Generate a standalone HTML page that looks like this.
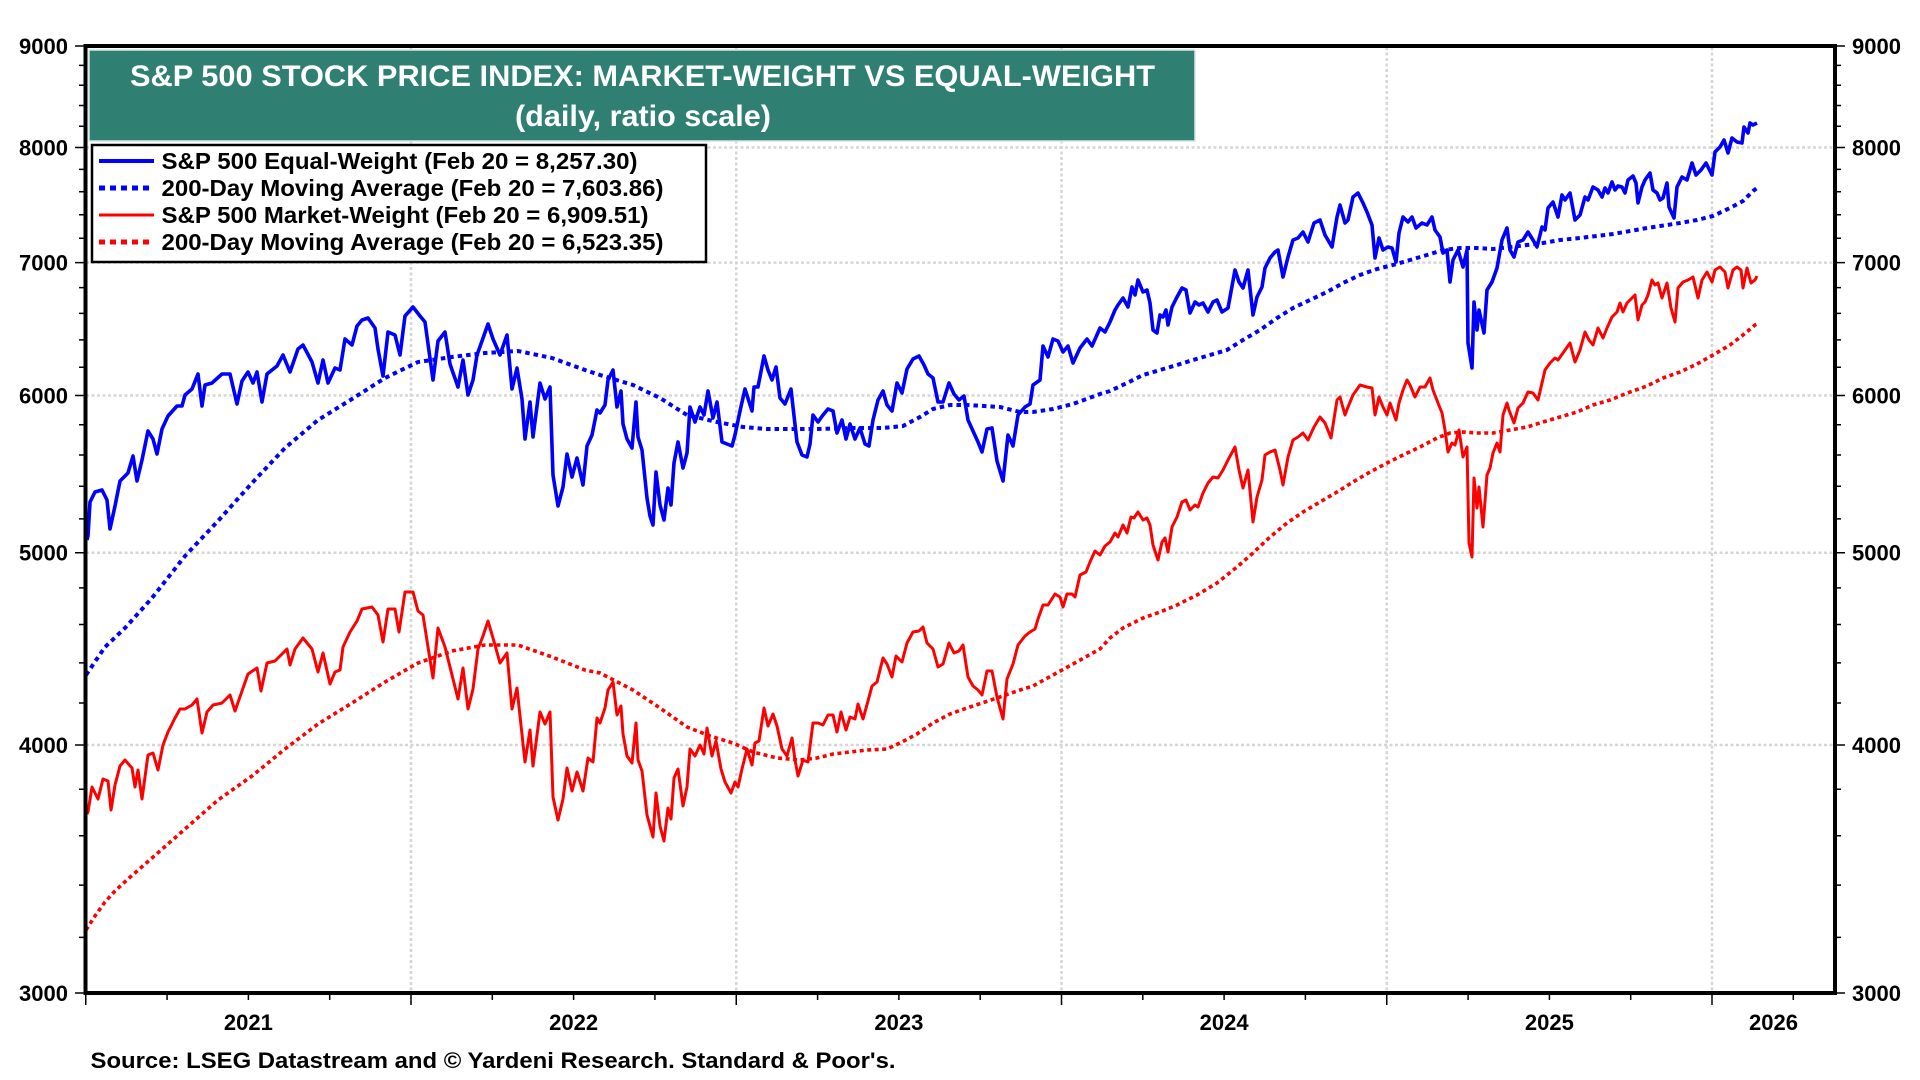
<!DOCTYPE html>
<html><head><meta charset="utf-8"><style>
html,body{margin:0;padding:0;background:#fff;}
svg{display:block;}
text{font-family:"Liberation Sans",Arial,sans-serif;font-weight:bold;}
</style></head><body>
<svg width="1920" height="1080" viewBox="0 0 1920 1080" xmlns="http://www.w3.org/2000/svg">
<rect x="0" y="0" width="1920" height="1080" fill="#fff"/>
<!-- gridlines -->
<g stroke="#d6d6d6" stroke-width="2.5" stroke-dasharray="3 2.5" fill="none">
<line x1="86" y1="147.5" x2="1834" y2="147.5"/>
<line x1="86" y1="262.6" x2="1834" y2="262.6"/>
<line x1="86" y1="395.5" x2="1834" y2="395.5"/>
<line x1="86" y1="552.7" x2="1834" y2="552.7"/>
<line x1="86" y1="745" x2="1834" y2="745"/>
<line x1="411" y1="47" x2="411" y2="992"/>
<line x1="736.25" y1="47" x2="736.25" y2="992"/>
<line x1="1061.5" y1="47" x2="1061.5" y2="992"/>
<line x1="1386.75" y1="47" x2="1386.75" y2="992"/>
<line x1="1712" y1="47" x2="1712" y2="992"/>
</g>
<!-- red MA -->
<polyline fill="none" stroke="#ff0000" stroke-width="3.6" stroke-dasharray="4 3.5" points="86,930 95,916 105,902 115,891 128,879 152,858 185,829 218,800 252,776 285,749 318,724 352,703 385,682 418,663 452,651 485,645 518,645 552,657 585,670 600,673 633,690 660,708 687,727 710,736 733,743 753,752 777,758 800,760 817,758 833,754 867,750 887,749 900,743 917,734 933,723 950,714 967,708 1000,697 1020,690 1033,686 1053,675 1073,664 1100,649 1110,638 1123,628 1143,618 1160,612 1177,605 1197,595 1217,583 1237,567 1253,553 1270,537 1287,523 1303,512 1320,502 1337,492 1353,482 1370,472 1387,463 1403,455 1420,447 1437,438 1450,433 1463,432 1477,433 1493,433 1510,430 1527,427 1543,422 1560,417 1577,412 1593,405 1610,400 1630,392 1647,386 1663,378 1680,372 1697,364 1713,355 1730,345 1743,335 1755,325 1757,324"/>
<!-- blue MA -->
<polyline fill="none" stroke="#0000ff" stroke-width="4" stroke-dasharray="4.5 4" points="86,675 105,647 125,628 152,598 185,556 218,521 252,483 285,448 318,420 352,399 385,378 418,362 452,357 485,353 518,351 552,358 585,370 600,375 633,385 660,398 687,415 717,422 743,427 767,429 800,429 817,429 850,428 883,428 903,426 920,417 933,409 950,405 967,405 1000,407 1020,412 1033,412 1053,409 1073,404 1100,394 1110,391 1127,383 1143,375 1160,370 1177,365 1193,360 1210,355 1227,350 1243,340 1260,330 1277,318 1293,308 1310,300 1327,292 1343,283 1360,275 1377,269 1393,265 1410,260 1427,255 1443,250 1460,248 1477,248 1493,249 1510,247 1527,245 1543,243 1560,240 1580,238 1613,234 1647,228 1680,223 1697,220 1713,216 1730,208 1743,201 1753,191 1757,188"/>
<!-- red solid -->
<polyline fill="none" stroke="#ff0000" stroke-width="3" stroke-linejoin="round" points="87,814 88,812 92,787 98,799 103,779 108,781 111,810 115,785 120,766 125,760 132,768 135,787 138,770 142,799 148,755 153,753 158,770 163,745 168,732 175,718 180,709 185,709 192,705 197,699 202,733 207,712 213,705 222,703 230,695 235,711 242,691 248,674 257,668 261,691 267,663 275,661 287,649 290,665 295,649 303,638 312,649 318,672 323,653 330,684 335,672 340,670 343,647 350,632 357,621 362,609 372,607 378,615 383,642 388,609 395,609 399,632 405,592 413,592 418,611 423,615 428,647 433,678 438,628 445,647 450,667 458,699 463,668 468,709 473,689 478,649 483,636 488,621 493,638 500,663 507,653 512,709 517,688 520,716 525,762 530,730 533,766 540,712 545,724 550,712 553,797 558,820 563,799 567,768 572,791 577,772 583,791 588,758 593,762 597,718 600,723 605,708 608,690 613,682 617,715 621,706 623,734 627,756 632,763 636,723 638,760 642,771 647,815 650,826 653,837 656,793 660,826 664,841 668,808 671,819 674,778 678,769 683,806 687,787 690,749 695,756 700,745 704,754 707,728 712,756 716,741 721,769 725,782 731,793 735,782 738,787 742,769 747,749 752,765 755,743 759,741 764,708 768,726 773,714 777,726 782,749 787,756 792,738 795,760 798,776 803,760 808,762 813,723 818,723 823,725 828,715 833,715 837,732 841,712 846,730 850,717 855,719 858,704 863,719 868,701 872,686 877,682 883,658 887,664 892,677 896,656 902,662 907,643 913,632 919,631 923,627 927,643 933,649 938,667 943,664 949,643 954,653 959,651 963,645 968,677 973,686 978,690 982,695 987,671 992,671 997,697 1003,719 1007,679 1013,664 1018,645 1025,636 1030,632 1035,629 1038,619 1043,605 1048,605 1055,594 1060,597 1063,607 1067,594 1072,594 1075,597 1080,575 1086,572 1090,562 1095,551 1100,555 1105,546 1110,542 1115,533 1118,537 1123,525 1127,533 1131,517 1134,518 1138,512 1143,520 1147,518 1150,525 1153,545 1158,560 1162,542 1165,538 1168,552 1172,527 1177,517 1182,502 1186,500 1190,510 1195,505 1198,507 1203,493 1208,483 1213,477 1218,478 1223,470 1228,460 1235,447 1239,470 1243,488 1248,470 1253,522 1257,497 1262,480 1265,455 1270,452 1275,450 1280,470 1283,485 1288,457 1293,440 1298,437 1303,433 1308,440 1314,427 1320,417 1325,423 1331,438 1337,400 1340,397 1345,415 1348,407 1353,395 1360,385 1367,387 1372,388 1375,415 1379,397 1383,407 1387,415 1390,403 1396,420 1399,403 1403,390 1407,380 1410,385 1415,397 1420,387 1425,387 1430,378 1433,390 1438,403 1442,413 1445,430 1448,452 1452,443 1455,445 1459,430 1463,457 1467,447 1469,543 1472,557 1474,478 1477,508 1479,487 1483,527 1487,475 1490,468 1493,453 1497,443 1500,452 1503,415 1507,403 1509,410 1514,423 1518,408 1523,403 1528,392 1533,393 1538,400 1542,383 1545,370 1550,363 1555,358 1558,360 1563,353 1570,343 1575,362 1580,350 1585,332 1589,340 1593,345 1598,328 1603,338 1607,328 1612,317 1617,312 1620,303 1623,312 1627,303 1632,298 1635,295 1638,320 1642,305 1645,302 1648,295 1652,280 1655,285 1658,283 1662,298 1667,283 1671,308 1675,322 1678,288 1683,282 1688,280 1693,277 1698,298 1702,280 1707,272 1712,282 1715,270 1720,267 1725,272 1728,288 1733,270 1737,267 1741,270 1743,288 1747,268 1751,283 1755,280 1757,276"/>
<!-- blue solid -->
<polyline fill="none" stroke="#0000ff" stroke-width="3.6" stroke-linejoin="round" points="87,540 88,536 90,502 95,492 102,490 107,500 110,529 115,506 120,481 128,473 133,456 137,481 142,460 148,431 153,439 157,454 162,429 168,416 177,406 182,406 185,395 192,389 198,374 202,406 205,385 212,383 222,374 230,374 237,404 242,381 248,372 253,383 257,372 262,402 267,374 277,366 283,355 290,372 298,349 303,345 312,362 318,383 323,360 328,383 335,368 340,370 345,339 352,345 357,326 362,320 368,318 375,328 378,349 383,376 388,332 395,335 400,355 405,316 413,307 420,316 425,322 433,380 438,341 445,332 450,364 458,387 463,360 468,395 473,380 477,355 482,341 488,324 493,339 500,355 507,335 512,389 517,368 522,399 525,439 530,402 533,437 540,383 545,399 550,387 553,475 558,506 563,487 567,454 572,477 577,458 583,485 587,446 592,435 597,410 600,413 605,405 608,380 613,370 617,407 621,391 623,424 627,439 632,448 636,402 638,437 642,450 647,498 650,516 653,525 656,472 660,505 664,520 668,488 671,505 674,463 678,442 683,468 687,453 690,407 695,422 700,407 704,415 708,391 713,418 717,402 722,442 727,444 732,446 735,435 740,411 745,389 752,411 754,387 758,387 764,356 768,370 772,380 776,367 780,398 785,404 791,389 793,407 797,442 802,455 807,457 810,444 813,415 818,422 823,415 828,409 833,411 837,433 842,420 846,439 850,424 855,439 860,428 865,444 869,446 873,420 878,400 883,391 887,405 892,411 897,383 902,393 907,369 913,359 919,356 924,365 928,374 933,378 938,402 943,402 949,383 954,394 959,400 964,396 968,420 973,431 978,442 982,452 987,429 992,428 997,461 1003,481 1008,435 1013,446 1018,415 1025,407 1030,404 1033,385 1040,380 1043,346 1048,357 1053,339 1058,341 1063,352 1068,346 1073,363 1080,348 1087,339 1092,346 1100,328 1105,332 1110,322 1115,310 1118,305 1123,298 1128,307 1132,287 1135,295 1138,280 1143,292 1147,290 1150,303 1153,330 1157,333 1160,315 1163,317 1166,310 1168,325 1172,307 1177,297 1182,288 1186,290 1190,313 1195,302 1199,305 1203,303 1208,312 1213,302 1217,300 1222,312 1228,308 1235,270 1239,282 1243,288 1248,270 1253,315 1257,297 1262,287 1265,268 1270,258 1275,252 1278,250 1283,277 1288,257 1293,240 1298,238 1303,232 1308,242 1314,223 1320,220 1325,235 1332,247 1337,217 1340,205 1345,223 1348,220 1353,197 1358,193 1363,203 1367,212 1372,225 1375,258 1379,238 1383,250 1388,247 1392,248 1396,262 1399,233 1403,217 1408,222 1412,217 1416,228 1422,223 1427,225 1432,217 1435,230 1440,237 1443,253 1447,250 1450,282 1453,260 1458,250 1463,267 1467,250 1468,343 1472,368 1474,302 1477,330 1479,310 1484,333 1487,290 1492,282 1497,268 1502,240 1507,228 1510,250 1514,257 1518,242 1523,240 1528,232 1533,240 1537,247 1542,227 1545,230 1548,208 1553,202 1558,217 1562,195 1565,200 1570,193 1575,220 1580,215 1585,197 1588,200 1593,187 1598,190 1602,197 1605,188 1608,193 1612,182 1615,190 1618,186 1622,187 1625,193 1628,180 1633,176 1636,183 1638,203 1642,187 1645,180 1650,173 1653,190 1657,193 1660,200 1663,198 1667,183 1669,207 1674,218 1677,187 1682,177 1687,180 1692,163 1696,175 1701,170 1706,163 1712,175 1715,152 1720,147 1724,140 1728,153 1732,138 1737,142 1742,143 1744,127 1748,133 1750,123 1753,125 1757,123"/>

<!-- title box -->
<rect x="89" y="50" width="1106" height="91" fill="#2f7f72" stroke="#d8e6e2" stroke-width="1.5"/>
<text x="642.5" y="86" fill="#fff" font-size="30" text-anchor="middle" textLength="1025" lengthAdjust="spacingAndGlyphs">S&amp;P 500 STOCK PRICE INDEX: MARKET-WEIGHT VS EQUAL-WEIGHT</text>
<text x="643" y="126" fill="#fff" font-size="30" text-anchor="middle" textLength="256" lengthAdjust="spacingAndGlyphs">(daily, ratio scale)</text>

<!-- legend -->
<rect x="92" y="145" width="614" height="117" fill="#fff" stroke="#000" stroke-width="2.5"/>
<line x1="99" y1="161" x2="154" y2="161" stroke="#0000ff" stroke-width="4"/>
<line x1="99" y1="188" x2="154" y2="188" stroke="#0000ff" stroke-width="5" stroke-dasharray="6 5"/>
<line x1="99" y1="215" x2="154" y2="215" stroke="#ff0000" stroke-width="3"/>
<line x1="99" y1="242" x2="154" y2="242" stroke="#ff0000" stroke-width="5" stroke-dasharray="6 5"/>
<g font-size="23" fill="#000">
<text x="161.5" y="169" textLength="476" lengthAdjust="spacingAndGlyphs">S&amp;P 500 Equal-Weight (Feb 20 = 8,257.30)</text>
<text x="161.5" y="196" textLength="502" lengthAdjust="spacingAndGlyphs">200-Day Moving Average (Feb 20 = 7,603.86)</text>
<text x="161.5" y="223" textLength="487" lengthAdjust="spacingAndGlyphs">S&amp;P 500 Market-Weight (Feb 20 = 6,909.51)</text>
<text x="161.5" y="250" textLength="502" lengthAdjust="spacingAndGlyphs">200-Day Moving Average (Feb 20 = 6,523.35)</text>
</g>

<!-- y ticks -->
<g stroke="#000" stroke-width="1.5">
<path d="M75 46H84 M75 147.5H84 M75 262.6H84 M75 395.5H84 M75 552.7H84 M75 745H84 M75 993H84
M79 65.4H84 M79 85.2H84 M79 105.5H84 M79 126.2H84 M79 169.4H84 M79 191.7H84 M79 214.7H84 M79 238.3H84 M79 287.6H84 M79 313.4H84 M79 339.9H84 M79 367.2H84 M79 424.7H84 M79 455H84 M79 486.3H84 M79 518.9H84 M79 587.9H84 M79 624.5H84 M79 662.9H84 M79 703H84 M79 789.2H84 M79 835.8H84 M79 885.1H84 M79 937.4H84"/>
<path d="M1836 46H1845 M1836 147.5H1845 M1836 262.6H1845 M1836 395.5H1845 M1836 552.7H1845 M1836 745H1845 M1836 993H1845
M1836 65.4H1841 M1836 85.2H1841 M1836 105.5H1841 M1836 126.2H1841 M1836 169.4H1841 M1836 191.7H1841 M1836 214.7H1841 M1836 238.3H1841 M1836 287.6H1841 M1836 313.4H1841 M1836 339.9H1841 M1836 367.2H1841 M1836 424.7H1841 M1836 455H1841 M1836 486.3H1841 M1836 518.9H1841 M1836 587.9H1841 M1836 624.5H1841 M1836 662.9H1841 M1836 703H1841 M1836 789.2H1841 M1836 835.8H1841 M1836 885.1H1841 M1836 937.4H1841"/>
<!-- x ticks -->
<path d="M85.75 994V1005 M411 994V1005 M736.25 994V1005 M1061.5 994V1005 M1386.75 994V1005 M1712 994V1005
M167.06 994V1000 M248.38 994V1000 M329.69 994V1000 M492.3 994V1000 M573.6 994V1000 M654.9 994V1000 M817.6 994V1000 M898.9 994V1000 M980.2 994V1000 M1142.8 994V1000 M1224.1 994V1000 M1305.4 994V1000 M1468.1 994V1000 M1549.4 994V1000 M1630.7 994V1000 M1793.3 994V1000"/>
</g>

<!-- frame -->
<rect x="85.5" y="46" width="1749.5" height="947" fill="none" stroke="#000" stroke-width="4"/>

<!-- y labels -->
<g font-size="22" fill="#000" text-anchor="end">
<text x="68" y="54">9000</text>
<text x="68" y="155.5">8000</text>
<text x="68" y="270.6">7000</text>
<text x="68" y="403.5">6000</text>
<text x="68" y="560.7">5000</text>
<text x="68" y="753">4000</text>
<text x="68" y="1001">3000</text>
</g>
<g font-size="22" fill="#000" text-anchor="start">
<text x="1852" y="54">9000</text>
<text x="1852" y="155.5">8000</text>
<text x="1852" y="270.6">7000</text>
<text x="1852" y="403.5">6000</text>
<text x="1852" y="560.7">5000</text>
<text x="1852" y="753">4000</text>
<text x="1852" y="1001">3000</text>
</g>
<!-- x labels -->
<g font-size="22" fill="#000" text-anchor="middle">
<text x="248.4" y="1030">2021</text>
<text x="573.6" y="1030">2022</text>
<text x="898.9" y="1030">2023</text>
<text x="1224.1" y="1030">2024</text>
<text x="1549.4" y="1030">2025</text>
<text x="1773.5" y="1030">2026</text>
</g>
<text x="90.5" y="1068" font-size="22" fill="#000" textLength="805" lengthAdjust="spacingAndGlyphs">Source: LSEG Datastream and © Yardeni Research. Standard &amp; Poor's.</text>
</svg>
</body></html>
